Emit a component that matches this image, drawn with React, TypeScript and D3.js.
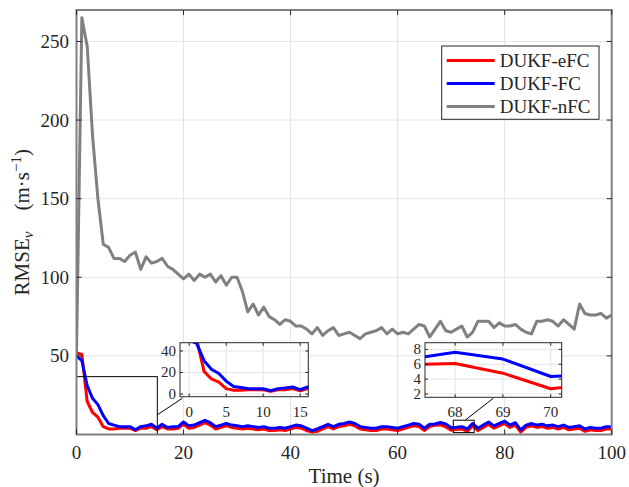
import React from "react";
import * as d3 from "d3";

// sampled once per second
const time = d3.range(0, 101);

const efc = [
  52, 51, 21, 14, 11, 5, 3.5, 3.5, 4, 4,
  4, 2.5, 4, 4, 5, 3, 5, 3.5, 3.5, 4,
  6.5, 4, 4.5, 6, 7.5, 6, 3.5, 4.5, 5.5, 4.5,
  4, 3.5, 4, 3.5, 3, 3.5, 2.5, 2.5, 3, 2.5,
  3.5, 4.5, 4, 2.5, 1.5, 2, 3.5, 5, 3.5, 5,
  5.5, 6.5, 5.5, 3.5, 3, 2.5, 2.5, 3.5, 3.5, 3,
  2.5, 3.5, 4.5, 5.5, 5, 2.5, 5, 5.95, 6.1, 4.8,
  2.7, 3.35, 3.5, 2, 5.5, 2.5, 4.5, 6.5, 4, 5.5,
  7, 4.5, 6, 1.5, 4.5, 5.5, 4.5, 5, 4, 4.5,
  3.5, 4.5, 3, 3.5, 4, 2, 3, 2.5, 2.5, 3.5, 3.5,
];

const fc = [
  50, 47, 31, 23, 19, 12, 7, 6, 5, 5,
  5, 3, 5, 5.5, 6.5, 4, 6.5, 4.5, 5, 5,
  8, 5.5, 6, 7.5, 9, 7.5, 5, 6, 7, 6,
  5.5, 5, 5.5, 5, 4.5, 5, 4, 4, 4.5, 4,
  5, 6, 5.5, 4, 2.5, 3.5, 5, 6.5, 5, 6.5,
  7, 8, 7, 5, 4.5, 4, 4, 5, 5, 4.5,
  4, 5, 6, 7, 6.5, 4, 6.5, 6.65, 7.6, 6.7,
  4.35, 4.6, 5, 3.5, 7, 4, 6, 8, 5.5, 7,
  8.5, 6, 7.5, 3, 6, 7, 6, 6.5, 5.5, 6,
  5, 6, 4.5, 5, 5.5, 3.5, 4.5, 4, 4, 5, 5,
];

const nfc = [
  52, 265, 247, 190, 150, 121, 119, 112, 112, 110,
  114, 116, 105, 113, 109, 110, 112, 107, 105, 102,
  99, 102, 98, 102, 100, 102, 97, 101, 95, 100,
  100, 91, 78, 83, 76, 81, 75, 73, 70, 73,
  72, 69, 69, 67, 64, 68, 63, 66, 68, 63,
  64, 65, 63, 61, 64, 65, 66, 68, 64, 67,
  64, 65, 64, 67, 70, 69, 62, 67, 72, 66,
  65, 67, 69, 62, 65, 72, 72, 72, 68, 71,
  69, 69, 70, 67, 65, 64, 72, 72, 73, 72,
  69, 73, 70, 67, 83, 77, 76, 76, 77, 74, 76,
];

const seriesNames = ["DUKF-eFC", "DUKF-FC", "DUKF-nFC"];
const seriesColors = ["#ff0000", "#0000ff", "#808080"];
const seriesValues = [efc, fc, nfc];

const xTicks = [0, 20, 40, 60, 80, 100];
const yTicks = [50, 100, 150, 200, 250];

// zoom insets: shown range and the marked region on the main axes
const zoomAx = [-1.25, 16.1];
const zoomAy = [-2.5, 47.7];
const zoomAxTicks = [0, 5, 10, 15];
const zoomAyTicks = [0, 20, 40];
const zoomArect = [0, 15.1, 0, 36.8];
const zoomAlink = [15.1, 12.5, 19.8, 23.1];

const zoomBx = [67.37, 70.23];
const zoomBy = [1.55, 8.9];
const zoomBxTicks = [68, 69, 70];
const zoomByTicks = [2, 4, 6, 8];
const zoomBrect = [70.4, 74.3, 1.2, 9.1];
const zoomBlink = [72.7, 9.3, 77.9, 23.1];

const FONT = "Liberation Serif, Times New Roman, DejaVu Serif, serif";
const TXT = "#262626";
const GRID = "#e3e3e3";
const tstyle = { fontFamily: FONT };

type InsetProps = {
  id: string;
  box: number[];
  xd: number[];
  yd: number[];
  xt: number[];
  yt: number[];
};

function Inset({ id, box, xd, yd, xt, yt }: InsetProps) {
  const [l, t, r, b] = box;
  const x = d3.scaleLinear().domain(xd).range([l, r]);
  const y = d3.scaleLinear().domain(yd).range([b, t]);
  const line = d3
    .line<number>()
    .x((_, i) => x(time[i]))
    .y((d) => y(d));
  return (
    <g>
      <defs>
        <clipPath id={id}>
          <rect x={l} y={t} width={r - l} height={b - t} />
        </clipPath>
      </defs>
      <rect x={l} y={t} width={r - l} height={b - t} fill="#fff" />
      {xt.map((v) => (
        <line key={"gx" + v} x1={x(v)} x2={x(v)} y1={t} y2={b} stroke={GRID} />
      ))}
      {yt.map((v) => (
        <line key={"gy" + v} x1={l} x2={r} y1={y(v)} y2={y(v)} stroke={GRID} />
      ))}
      <g clipPath={`url(#${id})`}>
        {seriesValues.slice(0, 2).map((s, i) => (
          <path key={i} d={line(s) || ""} fill="none" stroke={seriesColors[i]} strokeWidth={3} strokeLinejoin="round" />
        ))}
      </g>
      {xt.map((v) => (
        <g key={"tx" + v}>
          <line x1={x(v)} x2={x(v)} y1={b} y2={b - 3} stroke={TXT} />
          <line x1={x(v)} x2={x(v)} y1={t} y2={t + 3} stroke={TXT} />
          <text x={x(v)} y={b + 20} textAnchor="middle" fontSize={15} fill={TXT} style={tstyle}>
            {v}
          </text>
        </g>
      ))}
      {yt.map((v) => (
        <g key={"ty" + v}>
          <line x1={l} x2={l + 3} y1={y(v)} y2={y(v)} stroke={TXT} />
          <line x1={r} x2={r - 3} y1={y(v)} y2={y(v)} stroke={TXT} />
          <text x={l - 4} y={y(v) + 5} textAnchor="end" fontSize={15} fill={TXT} style={tstyle}>
            {v}
          </text>
        </g>
      ))}
      <rect x={l} y={t} width={r - l} height={b - t} fill="none" stroke={TXT} strokeWidth={1} />
    </g>
  );
}

export default function App() {
  const L = 76.5, R = 611.7, T = 10, B = 434.5;
  const x = d3.scaleLinear().domain([0, 100]).range([L, R]);
  const y = d3.scaleLinear().domain([0, 270]).range([B, T]);
  const line = d3
    .line<number>()
    .x((_, i) => x(time[i]))
    .y((d) => y(d));

  const marks = [
    { rect: zoomArect, link: zoomAlink },
    { rect: zoomBrect, link: zoomBlink },
  ];

  const legX = 441.7, legY = 46, legW = 157.3, legH = 73.3;

  return (
    <svg width={629} height={487} style={{ position: "absolute", left: 0, top: 0, fontFamily: FONT }}>
      <defs>
        <clipPath id="mainclip">
          <rect x={L} y={T} width={R - L} height={B - T} />
        </clipPath>
      </defs>
      <rect width={629} height={487} fill="#fff" />
      {xTicks.map((v) => (
        <line key={"gx" + v} x1={x(v)} x2={x(v)} y1={T} y2={B} stroke={GRID} />
      ))}
      {yTicks.map((v) => (
        <line key={"gy" + v} x1={L} x2={R} y1={y(v)} y2={y(v)} stroke={GRID} />
      ))}
      <g clipPath="url(#mainclip)">
        {seriesValues.map((s, i) => (
          <path key={i} d={line(s) || ""} fill="none" stroke={seriesColors[i]} strokeWidth={3} strokeLinejoin="round" />
        ))}
      </g>
      {marks.map((m, i) => (
        <g key={"m" + i}>
          <rect
            x={x(m.rect[0])}
            y={y(m.rect[3])}
            width={x(m.rect[1]) - x(m.rect[0])}
            height={y(m.rect[2]) - y(m.rect[3])}
            fill="none"
            stroke="#000"
            strokeWidth={1}
          />
          <line x1={x(m.link[0])} y1={y(m.link[1])} x2={x(m.link[2])} y2={y(m.link[3])} stroke="#000" strokeWidth={1} />
        </g>
      ))}
      {/* frame */}
      <rect x={L} y={T} width={R - L} height={B - T} fill="none" stroke="#808080" strokeWidth={2} />
      {xTicks.map((v) => (
        <g key={"tx" + v}>
          <line x1={x(v)} x2={x(v)} y1={B} y2={B - 5} stroke={TXT} />
          <line x1={x(v)} x2={x(v)} y1={T} y2={T + 5} stroke={TXT} />
          <text x={x(v)} y={458.5} textAnchor="middle" fontSize={19} fill={TXT} style={tstyle}>
            {v}
          </text>
        </g>
      ))}
      {yTicks.map((v) => (
        <g key={"ty" + v}>
          <line x1={L} x2={L + 5} y1={y(v)} y2={y(v)} stroke={TXT} />
          <line x1={R} x2={R - 5} y1={y(v)} y2={y(v)} stroke={TXT} />
          <text x={69} y={y(v) + 6.5} textAnchor="end" fontSize={19} fill={TXT} style={tstyle}>
            {v}
          </text>
        </g>
      ))}
      <text x={(L + R) / 2} y={483} textAnchor="middle" fontSize={21} fill={TXT} style={tstyle}>
        Time (s)
      </text>
      <text
        transform={`translate(29,${(T + B) / 2}) rotate(-90)`}
        textAnchor="middle"
        fontSize={21}
        fill={TXT}
        style={tstyle}
      >
        RMSE
        <tspan fontStyle="italic" fontSize={15} dy={4}>v</tspan>
        <tspan dy={-4}>{"\u2003"}(m·s</tspan>
        <tspan fontSize={15} dy={-8}>−1</tspan>
        <tspan dy={8}>)</tspan>
      </text>

      <Inset id="insA" box={[180, 342.7, 308.3, 396.7]} xd={zoomAx} yd={zoomAy} xt={zoomAxTicks} yt={zoomAyTicks} />
      <Inset id="insB" box={[425, 342.7, 561.7, 397.3]} xd={zoomBx} yd={zoomBy} xt={zoomBxTicks} yt={zoomByTicks} />

      {/* legend */}
      <rect x={legX} y={legY} width={legW} height={legH} fill="#fff" stroke={TXT} strokeWidth={1} />
      {seriesNames.map((n, i) => {
        const ly = legY + 14.5 + i * 23;
        return (
          <g key={n}>
            <line x1={legX + 5} x2={legX + 53} y1={ly} y2={ly} stroke={seriesColors[i]} strokeWidth={3} />
            <text x={legX + 58} y={ly + 6.5} fontSize={19} fill={TXT} style={tstyle}>
              {n}
            </text>
          </g>
        );
      })}
    </svg>
  );
}
